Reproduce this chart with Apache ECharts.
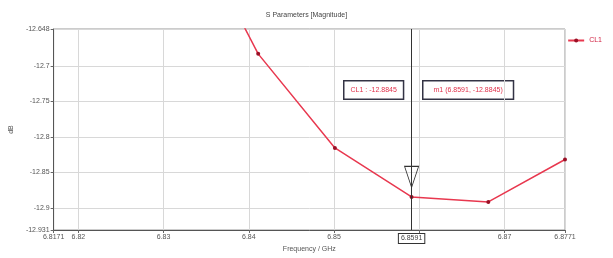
<!DOCTYPE html>
<html>
<head>
<meta charset="utf-8">
<script src="https://cdn.jsdelivr.net/npm/echarts@6/dist/echarts.min.js"></script>
<style>
  html, body { margin: 0; padding: 0; background: #fff; }
  #main { width: 613px; height: 258px; }
</style>
</head>
<body>
<div id="main"></div>
<script>
// 频率 (GHz) 与幅值 (dB)
var freqList = [6.8321, 6.8411, 6.8501, 6.8591, 6.8681, 6.8771];
var dbList = [-12.475, -12.683, -12.8155, -12.8845, -12.8915, -12.8317];
var xTickList = [6.8171, 6.82, 6.83, 6.84, 6.85, 6.86, 6.87, 6.8771];
var xLabelList = [6.8171, 6.82, 6.83, 6.84, 6.85, 6.87, 6.8771];
var yTickList = [-12.931, -12.9, -12.85, -12.8, -12.75, -12.7, -12.648];
var markerFreq = 6.8591;
var markerDb = -12.8845;
var seriesName = 'CL1';

var chart = echarts.init(document.getElementById('main'));
var dataList = [];
for (var i = 0; i < freqList.length; i++) {
  dataList.push([freqList[i], dbList[i]]);
}
var yMin = yTickList[0], yMax = yTickList[yTickList.length - 1];

var option = {
  animation: false,
  title: {
    text: 'S Parameters [Magnitude]',
    left: 'center',
    top: 7,
    textStyle: { fontSize: 7, fontWeight: 'normal', color: '#444', fontFamily: 'Liberation Sans' }
  },
  legend: {
    data: [seriesName],
    right: 6,
    top: 32,
    itemWidth: 16,
    itemHeight: 5,
    itemGap: 2,
    textStyle: { fontSize: 7, color: '#d02040', fontFamily: 'Liberation Sans' }
  },
  grid: {
    left: 52, right: 48, top: 29, bottom: 28,
    show: true, borderColor: '#999', borderWidth: 1
  },
  xAxis: {
    type: 'value',
    min: xTickList[0],
    max: xTickList[xTickList.length - 1],
    name: 'Frequency / GHz',
    nameLocation: 'middle',
    nameGap: 15,
    nameTextStyle: { fontSize: 7, color: '#555', fontFamily: 'Liberation Sans' },
    axisLine: { lineStyle: { color: '#555' } },
    axisTick: { show: true, length: 3, customValues: xTickList, lineStyle: { color: '#666' } },
    axisLabel: {
      customValues: xLabelList, fontSize: 7, color: '#555', margin: 4,
      fontFamily: 'Liberation Sans',
      formatter: function (v) { return String(v); }
    },
    splitLine: { show: true, lineStyle: { color: '#d8d8d8' } }
  },
  yAxis: {
    type: 'value',
    min: yMin,
    max: yMax,
    name: 'dB',
    nameLocation: 'middle',
    nameGap: 38,
    nameTextStyle: { fontSize: 7, color: '#555', fontFamily: 'Liberation Sans' },
    axisLine: { show: true, lineStyle: { color: '#555' } },
    axisTick: { show: true, length: 3, customValues: yTickList, lineStyle: { color: '#666' } },
    axisLabel: {
      customValues: yTickList, fontSize: 7, color: '#555', margin: 4,
      fontFamily: 'Liberation Sans',
      formatter: function (v) { return String(v); }
    },
    splitLine: { show: true, lineStyle: { color: '#d8d8d8' } }
  },
  series: [{
    name: seriesName,
    type: 'line',
    data: dataList,
    clip: true,
    symbol: 'circle',
    symbolSize: 4,
    lineStyle: { color: '#e8384f', width: 1.5 },
    itemStyle: { color: '#9a1026', borderWidth: 0 },
    markLine: {
      silent: true,
      symbol: 'none',
      precision: 4,
      lineStyle: { color: '#333', width: 1, type: 'solid' },
      label: {
        show: true, position: 'start', distance: 4,
        formatter: String(markerFreq), fontSize: 7, color: '#444',
        fontFamily: 'Liberation Sans',
        borderColor: '#333', borderWidth: 1, padding: [1, 2], backgroundColor: '#fff'
      },
      data: [[{ coord: [markerFreq, yMin] }, { coord: [markerFreq, yMax] }]]
    },
    markPoint: {
      silent: true,
      symbol: 'path://M0,0 L14,0 L7,20 Z',
      symbolSize: [14, 21],
      symbolOffset: [0, -20],
      itemStyle: { color: 'rgba(255,255,255,0)', borderColor: '#333', borderWidth: 1 },
      label: { show: false },
      data: [{ coord: [markerFreq, markerDb] }]
    }
  }],
  graphic: [
    {
      type: 'text', left: 343, top: 80,
      style: {
        text: seriesName + ' : ' + markerDb, fill: '#e0304a', fontSize: 7,
        fontFamily: 'Liberation Sans',
        borderColor: '#334', borderWidth: 1.5, padding: [5, 6], backgroundColor: '#fff'
      }
    },
    {
      type: 'text', left: 422, top: 80,
      style: {
        text: 'm1 (' + markerFreq + ', ' + markerDb + ')', fill: '#e0304a', fontSize: 7,
        fontFamily: 'Liberation Sans',
        borderColor: '#334', borderWidth: 1.5, padding: [5, 10], backgroundColor: '#fff'
      }
    }
  ]
};
chart.setOption(option);
</script>
</body>
</html>
